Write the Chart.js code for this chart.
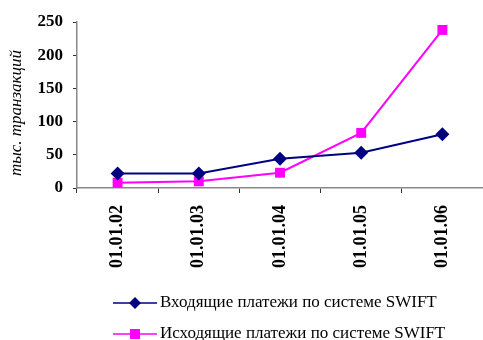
<!DOCTYPE html>
<html>
<head>
<meta charset="utf-8">
<script src="https://cdn.jsdelivr.net/npm/chart.js@4/dist/chart.umd.min.js"></script>
<style>
  html, body { margin: 0; padding: 0; background: #fff; }
  #wrap { width: 483px; height: 340px; position: relative; }
</style>
</head>
<body>
<div id="wrap"><canvas id="myChart" width="483" height="340"></canvas></div>
<script>
const dates = ['01.01.02', '01.01.03', '01.01.04', '01.01.05', '01.01.06'];
const incoming = [22, 22, 44, 53, 81];
const outgoing = [8, 10, 23, 83, 238];
const incomingLabel = 'Входящие платежи по системе SWIFT';
const outgoingLabel = 'Исходящие платежи по системе SWIFT';
const yTitle = 'тыс. транзакций';

// legend drawn by hand: line + marker, stacked under the axis
const lineLegend = {
    id: 'lineLegend',
    afterDraw(chart) {
        const ctx = chart.ctx;
        const rows = [303, 334];
        chart.data.datasets.forEach((ds, i) => {
            const y = rows[i];
            ctx.save();
            ctx.strokeStyle = ds.borderColor;
            ctx.lineWidth = 1.5;
            ctx.beginPath();
            ctx.moveTo(113, y);
            ctx.lineTo(157, y);
            ctx.stroke();
            ctx.fillStyle = ds.backgroundColor;
            ctx.beginPath();
            if (ds.pointStyle === 'rectRot') {
                ctx.moveTo(135, y - 6);
                ctx.lineTo(141, y);
                ctx.lineTo(135, y + 6);
                ctx.lineTo(129, y);
                ctx.closePath();
            } else {
                ctx.rect(130, y - 5, 10, 10);
            }
            ctx.fill();
            ctx.fillStyle = '#000';
            ctx.font = '17px "Liberation Serif", "Times New Roman", serif';
            ctx.textBaseline = 'middle';
            ctx.fillText(ds.label, 160, y);
            ctx.restore();
        });
    }
};

// rotated axis title, a little below the middle as in the source
const yTitlePlugin = {
    id: 'yTitle',
    afterDraw(chart) {
        const c = chart.ctx;
        c.save();
        c.translate(17, 113);
        c.rotate(-Math.PI / 2);
        c.fillStyle = '#000';
        c.font = 'italic 17px "Liberation Serif", "Times New Roman", serif';
        c.textAlign = 'center';
        c.textBaseline = 'middle';
        c.fillText(yTitle, 0, 0);
        c.restore();
    }
};

const ctx = document.getElementById('myChart').getContext('2d');
new Chart(ctx, {
    type: 'line',
    data: {
        labels: dates,
        datasets: [
            {
                label: incomingLabel,
                data: incoming,
                borderColor: '#000080',
                backgroundColor: '#000080',
                borderWidth: 2,
                pointStyle: 'rectRot',
                pointRadius: 7,
                pointBorderWidth: 0,
                tension: 0
            },
            {
                label: outgoingLabel,
                data: outgoing,
                borderColor: '#FF00FF',
                backgroundColor: '#FF00FF',
                borderWidth: 2,
                pointStyle: 'rect',
                pointRadius: 7,
                pointBorderWidth: 0,
                tension: 0
            }
        ]
    },
    options: {
        responsive: false,
        animation: false,
        layout: { autoPadding: false, padding: { top: 22, right: 0, bottom: 72, left: 0 } },
        plugins: {
            legend: { display: false },
            tooltip: { enabled: false }
        },
        scales: {
            x: {
                offset: true,
                afterFit: (s) => { s.height = 80; s.paddingLeft = 0; s.paddingRight = 0; },
                border: { color: '#888', width: 1.5 },
                grid: {
                    offset: true,
                    drawOnChartArea: false,
                    drawTicks: true,
                    tickLength: 5,
                    color: '#333'
                },
                ticks: {
                    minRotation: 90,
                    maxRotation: 90,
                    padding: 12,
                    color: '#000',
                    font: { family: '"Liberation Serif", "Times New Roman", serif', size: 18, weight: 'bold' }
                }
            },
            y: {
                min: 0,
                max: 250,
                afterFit: (s) => { s.width = 77; },
                border: { color: '#888', width: 1.5 },
                grid: {
                    drawOnChartArea: false,
                    drawTicks: true,
                    tickLength: 4,
                    color: '#333'
                },
                ticks: {
                    stepSize: 50,
                    padding: 10,
                    color: '#000',
                    font: { family: '"Liberation Serif", "Times New Roman", serif', size: 17, weight: 'bold' }
                }
            }
        }
    },
    plugins: [lineLegend, yTitlePlugin]
});
</script>
</body>
</html>
